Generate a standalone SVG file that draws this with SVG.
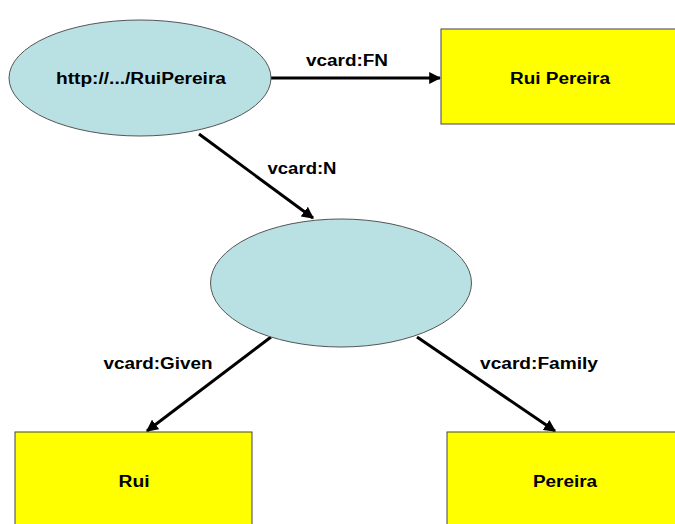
<svg xmlns="http://www.w3.org/2000/svg" width="675" height="524" viewBox="0 0 675 524">
<defs>
<style>
.res{fill:#B9E0E3;stroke:#555;stroke-width:1}
.lit{fill:#FFFF00;stroke:#444;stroke-width:1}
.t{font-family:"Liberation Sans",Arial,sans-serif;font-weight:bold;font-size:16px;fill:#000;text-anchor:middle}
.e{stroke:#000;stroke-width:3;fill:none;marker-end:url(#ah)}
</style>
<marker id="ah" viewBox="0 0 10 10" refX="9" refY="5" markerWidth="4" markerHeight="4" orient="auto" markerUnits="strokeWidth">
<path d="M0,0 L10,5 L0,10 z" fill="#000"/>
</marker>
</defs>
<rect width="675" height="524" fill="#fff"/>
<g id="connectors">
<line class="e" x1="271" y1="78" x2="440" y2="78"/>
<line class="e" x1="199" y1="134" x2="313" y2="218"/>
<line class="e" x1="271" y1="337" x2="147" y2="431"/>
<line class="e" x1="417" y1="337" x2="555" y2="431"/>
<text class="t" x="347" y="66" textLength="82" lengthAdjust="spacingAndGlyphs">vcard:FN</text>
<text class="t" x="302" y="174" textLength="69" lengthAdjust="spacingAndGlyphs">vcard:N</text>
<text class="t" x="158" y="369" textLength="109" lengthAdjust="spacingAndGlyphs">vcard:Given</text>
<text class="t" x="539" y="369" textLength="118" lengthAdjust="spacingAndGlyphs">vcard:Family</text>
</g>
<g id="node-ruipereira-uri">
<ellipse class="res" cx="140" cy="78" rx="131" ry="58"/>
<text class="t" x="141" y="84" textLength="170" lengthAdjust="spacingAndGlyphs">http://.../RuiPereira</text>
</g>
<g id="node-fn">
<rect class="lit" x="441" y="29" width="240" height="95"/>
<text class="t" x="560" y="84" textLength="100" lengthAdjust="spacingAndGlyphs">Rui Pereira</text>
</g>
<g id="node-blank">
<ellipse class="res" cx="341" cy="283" rx="130.5" ry="64"/>
</g>
<g id="node-given">
<rect class="lit" x="15" y="432" width="237" height="100"/>
<text class="t" x="134" y="487" textLength="31" lengthAdjust="spacingAndGlyphs">Rui</text>
</g>
<g id="node-family">
<rect class="lit" x="447" y="432" width="240" height="100"/>
<text class="t" x="565" y="487" textLength="64" lengthAdjust="spacingAndGlyphs">Pereira</text>
</g>
</svg>
